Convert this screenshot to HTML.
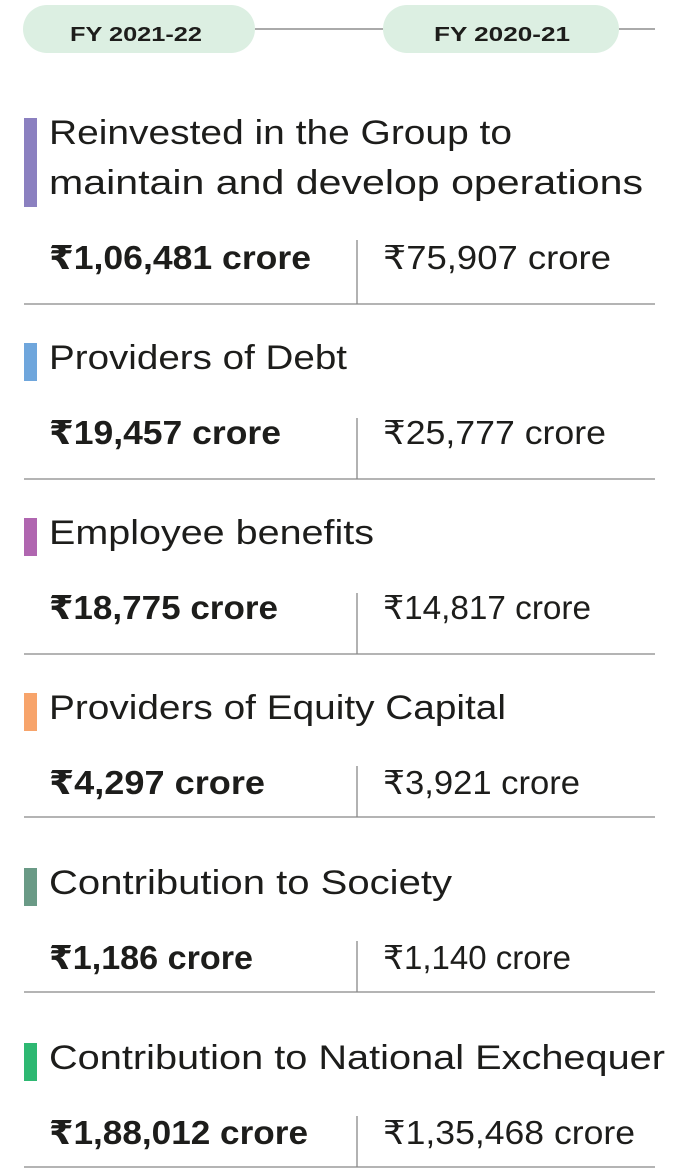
<!DOCTYPE html>
<html><head><meta charset="utf-8"><style>
html,body{margin:0;padding:0;background:#fff;}
svg{display:block;}
text{font-family:"Liberation Sans","DejaVu Sans",sans-serif;fill:#1d1d1b;}
.h{font-size:34px;}
.b{font-size:33px;font-weight:bold;}
.r{font-size:33px;}
.p{font-size:20px;font-weight:bold;}
</style></head><body>
<svg width="689" height="1172" viewBox="0 0 689 1172" xmlns="http://www.w3.org/2000/svg">
<rect x="23" y="5" width="232" height="48" rx="24" fill="#dcefe2"/>
<rect x="383" y="5" width="236" height="48" rx="24" fill="#dcefe2"/>
<line x1="255" y1="29" x2="383" y2="29" stroke="#777" stroke-width="1.2"/>
<line x1="619" y1="29" x2="655" y2="29" stroke="#777" stroke-width="1.2"/>
<text class="p" x="70" y="41" textLength="132" lengthAdjust="spacingAndGlyphs">FY 2021-22</text>
<text class="p" x="434" y="41" textLength="136" lengthAdjust="spacingAndGlyphs">FY 2020-21</text>

<g stroke="#888" stroke-width="1.3">
<line x1="24" y1="304" x2="655" y2="304"/><line x1="357" y1="240" x2="357" y2="304"/>
<line x1="24" y1="479" x2="655" y2="479"/><line x1="357" y1="418" x2="357" y2="479"/>
<line x1="24" y1="654" x2="655" y2="654"/><line x1="357" y1="593" x2="357" y2="654"/>
<line x1="24" y1="817" x2="655" y2="817"/><line x1="357" y1="766" x2="357" y2="817"/>
<line x1="24" y1="992" x2="655" y2="992"/><line x1="357" y1="941" x2="357" y2="992"/>
<line x1="24" y1="1167" x2="655" y2="1167"/><line x1="357" y1="1116" x2="357" y2="1167"/>
</g>

<rect x="24" y="118" width="13" height="89" fill="#8b80c0"/>
<rect x="24" y="343" width="13" height="38" fill="#6fa6dc"/>
<rect x="24" y="518" width="13" height="38" fill="#b066b0"/>
<rect x="24" y="693" width="13" height="38" fill="#f7a46b"/>
<rect x="24" y="868" width="13" height="38" fill="#6a9a86"/>
<rect x="24" y="1043" width="13" height="38" fill="#2eb872"/>

<text class="h" x="49" y="144" textLength="463" lengthAdjust="spacingAndGlyphs">Reinvested in the Group to</text>
<text class="h" x="49" y="194" textLength="594" lengthAdjust="spacingAndGlyphs">maintain and develop operations</text>
<text class="h" x="49" y="369" textLength="298" lengthAdjust="spacingAndGlyphs">Providers of Debt</text>
<text class="h" x="49" y="544" textLength="325" lengthAdjust="spacingAndGlyphs">Employee benefits</text>
<text class="h" x="49" y="719" textLength="457" lengthAdjust="spacingAndGlyphs">Providers of Equity Capital</text>
<text class="h" x="49" y="894" textLength="403" lengthAdjust="spacingAndGlyphs">Contribution to Society</text>
<text class="h" x="49" y="1069" textLength="616" lengthAdjust="spacingAndGlyphs">Contribution to National Exchequer</text>

<text class="b" x="49" y="269" textLength="262" lengthAdjust="spacingAndGlyphs">₹1,06,481 crore</text>
<text class="r" x="383" y="269" textLength="228" lengthAdjust="spacingAndGlyphs">₹75,907 crore</text>
<text class="b" x="49" y="444" textLength="232" lengthAdjust="spacingAndGlyphs">₹19,457 crore</text>
<text class="r" x="383" y="444" textLength="223" lengthAdjust="spacingAndGlyphs">₹25,777 crore</text>
<text class="b" x="49" y="619" textLength="229" lengthAdjust="spacingAndGlyphs">₹18,775 crore</text>
<text class="r" x="383" y="619" textLength="208" lengthAdjust="spacingAndGlyphs">₹14,817 crore</text>
<text class="b" x="49" y="794" textLength="216" lengthAdjust="spacingAndGlyphs">₹4,297 crore</text>
<text class="r" x="383" y="794" textLength="197" lengthAdjust="spacingAndGlyphs">₹3,921 crore</text>
<text class="b" x="49" y="969" textLength="204" lengthAdjust="spacingAndGlyphs">₹1,186 crore</text>
<text class="r" x="383" y="969" textLength="188" lengthAdjust="spacingAndGlyphs">₹1,140 crore</text>
<text class="b" x="49" y="1144" textLength="259" lengthAdjust="spacingAndGlyphs">₹1,88,012 crore</text>
<text class="r" x="383" y="1144" textLength="252" lengthAdjust="spacingAndGlyphs">₹1,35,468 crore</text>
</svg>
</body></html>
